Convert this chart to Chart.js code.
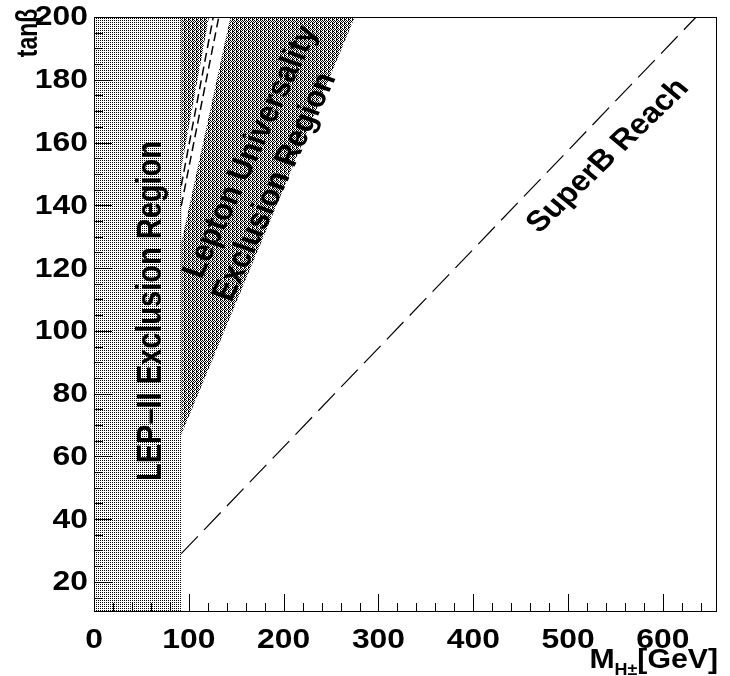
<!DOCTYPE html>
<html>
<head>
<meta charset="utf-8">
<script src="https://cdn.jsdelivr.net/npm/chart.js@4/dist/chart.umd.min.js"></script>
<style>
  html, body { margin: 0; padding: 0; background: #fff; }
  #wrap { width: 730px; height: 676px; }
</style>
</head>
<body>
<div id="wrap"><canvas id="c" width="730" height="676"></canvas></div>
<script>
// ---- data ----
const xTicks = [0, 100, 200, 300, 400, 500, 600];
const yTicks = [20, 40, 60, 80, 100, 120, 140, 160, 180, 200];
const xRange = [0, 657];
const yRange = [10.4, 200];

// LEP-II excluded region (M_H < 92 GeV)
const lepX = [0, 0, 92, 92];
const lepY = [10, 200, 200, 10];
// Lepton universality excluded wedge
const luX = [92, 92, 275];
const luY = [66.9, 200, 200];
// allowed (white) band inside the wedge
const bandX = [92, 92, 121.2, 143.9];
const bandY = [127.9, 151.8, 200, 200];
// two dashed lines inside the band
const dashAX = [92, 125.8];
const dashAY = [146.3, 200];
const dashBX = [92, 131.6];
const dashBY = [139.8, 200];
// SuperB reach
const superbX = [92, 635];
const superbY = [29.0, 200];

const pts = (xs, ys) => xs.map((x, i) => ({ x: x, y: ys[i] }));

function makePattern(w, h, blackPixels) {
  const c = document.createElement('canvas');
  c.width = w; c.height = h;
  const g = c.getContext('2d');
  g.fillStyle = '#ffffff';
  g.fillRect(0, 0, w, h);
  g.fillStyle = '#000000';
  blackPixels.forEach(p => g.fillRect(p[0], p[1], 1, 1));
  return g.createPattern(c, 'repeat');
}
const ctx0 = document.getElementById('c').getContext('2d');
const lepPattern = makePattern(2, 2, [[0, 0]]);
const luPattern = makePattern(4, 4, [[0,0],[2,0],[1,1],[3,1],[0,2],[2,2],[0,3],[1,3]]);

const FONT = '"Liberation Sans", Arial, Helvetica, sans-serif';
const SX = 1.18;

const overlay = {
  id: 'overlay',
  afterDraw(chart) {
    const ctx = chart.ctx;
    const xs = chart.scales.x, ys = chart.scales.y;
    const a = chart.chartArea;
    ctx.save();
    // frame
    ctx.strokeStyle = '#000';
    ctx.lineWidth = 1;
    ctx.strokeRect(Math.round(a.left) + 0.5, Math.round(a.top) + 0.5,
                   Math.round(a.right - a.left) - 1, Math.round(a.bottom - a.top) - 1);
    // inward tick marks
    ctx.beginPath();
    for (let v = xRange[0]; v <= xRange[1]; v += 20) {
      const px = Math.round(xs.getPixelForValue(v)) + 0.5;
      const len = (v % 100 === 0) ? 18 : 9;
      ctx.moveTo(px, a.bottom);
      ctx.lineTo(px, a.bottom - len);
    }
    for (let v = 15; v <= yRange[1]; v += 5) {
      const py = Math.round(ys.getPixelForValue(v)) + 0.5;
      const len = (v % 20 === 0) ? 18 : 9;
      ctx.moveTo(a.left, py);
      ctx.lineTo(a.left + len, py);
    }
    ctx.stroke();

    ctx.fillStyle = '#000';
    const stretched = (txt, x, y, font, align, baseline, deg, sx) => {
      ctx.save();
      ctx.translate(x, y);
      ctx.scale(sx, 1);
      ctx.rotate((deg || 0) * Math.PI / 180);
      ctx.font = font;
      ctx.textAlign = align;
      ctx.textBaseline = baseline;
      ctx.fillText(txt, 0, 0);
      ctx.restore();
    };
    // tick labels
    const tf = 'bold 27px ' + FONT;
    xTicks.forEach(v => stretched(String(v), xs.getPixelForValue(v), 627, tf, 'center', 'top', 0, SX));
    yTicks.forEach(v => stretched(String(v), 88, ys.getPixelForValue(v) + 1, tf, 'right', 'middle', 0, SX));

    // y title
    stretched('tanβ', 29, 33, 'bold 23px ' + FONT, 'center', 'middle', -90, 1.25);

    // x title  M_{H±}[GeV]
    const XS = 1.12;
    ctx.font = 'bold 27px ' + FONT;
    const wG = ctx.measureText('[GeV]').width * XS;
    ctx.font = 'bold 16px ' + FONT;
    const wH = ctx.measureText('H±').width * XS;
    stretched('[GeV]', 718, 668, 'bold 27px ' + FONT, 'right', 'alphabetic', 0, XS);
    stretched('H±', 718 - wG, 675, 'bold 16px ' + FONT, 'right', 'alphabetic', 0, XS);
    stretched('M', 718 - wG - wH, 668, 'bold 27px ' + FONT, 'right', 'alphabetic', 0, XS);

    // annotations (angles chosen so the stretched text ends on the visual angle)
    const ang = (deg, sx) => Math.atan(Math.tan(deg * Math.PI / 180) * sx) * 180 / Math.PI;
    stretched('LEP–II Exclusion Region', 151, 311, 'bold 29px ' + FONT, 'center', 'middle', -90, 1.22);
    stretched('Lepton Universality', 251, 152, 'bold 29px ' + FONT, 'center', 'middle', ang(-65, 1.15), 1.15);
    stretched('Exclusion Region', 275, 187, 'bold 29px ' + FONT, 'center', 'middle', ang(-65, 1.15), 1.15);
    stretched('SuperB Reach', 608, 156, 'bold 29px ' + FONT, 'center', 'middle', ang(-44, 1.12), 1.12);
    ctx.restore();
  }
};

new Chart(ctx0, {
  type: 'scatter',
  data: {
    datasets: [
      { label: 'LEP-II', data: pts(lepX, lepY), showLine: true, pointRadius: 0,
        borderWidth: 0, borderColor: 'rgba(0,0,0,0)', backgroundColor: lepPattern, fill: 'shape', order: 5 },
      { label: 'Lepton Universality', data: pts(luX, luY), showLine: true, pointRadius: 0,
        borderWidth: 0, borderColor: 'rgba(0,0,0,0)', backgroundColor: luPattern, fill: 'shape', order: 4 },
      { label: 'allowed band', data: pts(bandX, bandY), showLine: true, pointRadius: 0,
        borderWidth: 0, borderColor: 'rgba(0,0,0,0)', backgroundColor: '#ffffff', fill: 'shape', order: 3 },
      { label: 'dash A', data: pts(dashAX, dashAY), showLine: true, pointRadius: 0,
        borderWidth: 1.5, borderColor: '#000', borderDash: [9, 5], fill: false, order: 2 },
      { label: 'dash B', data: pts(dashBX, dashBY), showLine: true, pointRadius: 0,
        borderWidth: 1.5, borderColor: '#000', borderDash: [9, 5], fill: false, order: 2 },
      { label: 'SuperB Reach', data: pts(superbX, superbY), showLine: true, pointRadius: 0,
        borderWidth: 1.2, borderColor: '#000', borderDash: [24, 9], fill: false, order: 1 }
    ]
  },
  options: {
    responsive: false,
    animation: false,
    devicePixelRatio: 1,
    layout: { padding: { left: 94, right: 13, top: 17, bottom: 64 } },
    plugins: { legend: { display: false }, tooltip: { enabled: false } },
    scales: {
      x: { type: 'linear', display: false, min: xRange[0], max: xRange[1] },
      y: { type: 'linear', display: false, min: yRange[0], max: yRange[1] }
    }
  },
  plugins: [overlay]
});
</script>
</body>
</html>
